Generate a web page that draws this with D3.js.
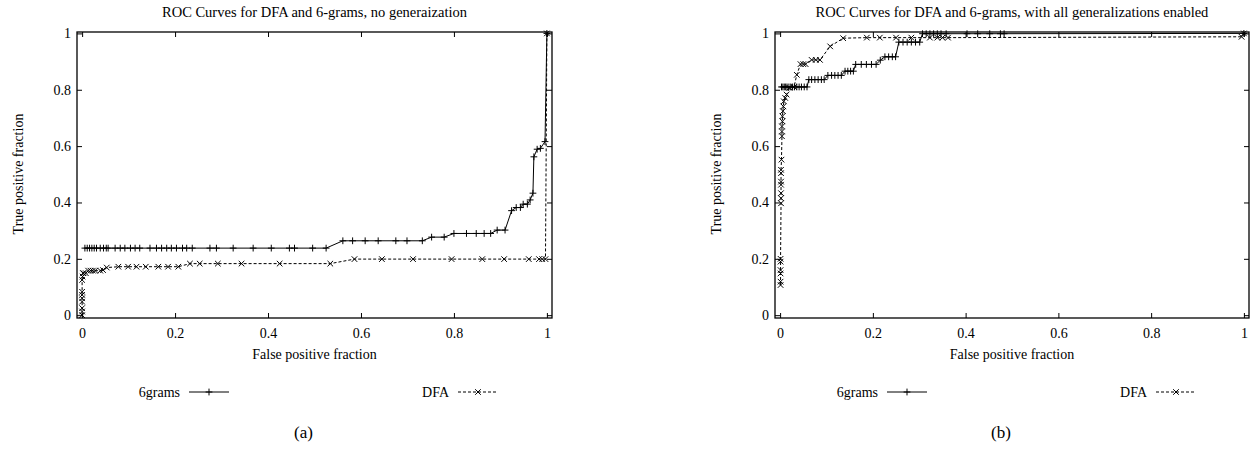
<!DOCTYPE html>
<html>
<head>
<meta charset="utf-8">
<script src="https://cdn.jsdelivr.net/npm/d3@7"></script>
<style>
  body { margin: 0; background: #fff; }
  text { font-family: "Liberation Serif", "Times New Roman", serif; fill: #000; }
</style>
</head>
<body>
<div id="chart"></div>
<script>

// tick values, shared by both panels
var xTickValues = [0, 0.2, 0.4, 0.6, 0.8, 1]
var yTickValues = [0, 0.2, 0.4, 0.6, 0.8, 1]

var seriesNames = ["6grams", "DFA"]

// (a) no generalization - 6grams
var grams6NoGenFpr = [0.006, 0.011, 0.016, 0.021, 0.026, 0.031, 0.039, 0.046, 0.052, 0.056,
  0.071, 0.082, 0.092, 0.104, 0.114, 0.124, 0.146, 0.160, 0.171, 0.182, 0.192, 0.203, 0.216,
  0.225, 0.237, 0.275, 0.289, 0.325, 0.368, 0.407, 0.446, 0.457, 0.496, 0.525,
  0.561, 0.582, 0.609, 0.637, 0.675, 0.699, 0.732, 0.752, 0.779,
  0.800, 0.827, 0.848, 0.865, 0.879, 0.893, 0.910,
  0.924, 0.934, 0.943, 0.949, 0.958, 0.964, 0.970, 0.972, 0.979, 0.986, 0.996, 1.0]
var grams6NoGenTpr = [0.238, 0.238, 0.238, 0.238, 0.238, 0.238, 0.238, 0.238, 0.238, 0.238,
  0.238, 0.238, 0.238, 0.238, 0.238, 0.238, 0.238, 0.238, 0.238, 0.238, 0.238, 0.238, 0.238,
  0.238, 0.238, 0.238, 0.238, 0.238, 0.238, 0.238, 0.238, 0.238, 0.238, 0.238,
  0.264, 0.264, 0.264, 0.264, 0.264, 0.264, 0.264, 0.277, 0.277,
  0.290, 0.290, 0.290, 0.290, 0.290, 0.302, 0.302,
  0.371, 0.382, 0.382, 0.394, 0.394, 0.409, 0.433, 0.562, 0.589, 0.592, 0.616, 1.0]

// (a) no generalization - DFA
var dfaNoGenFpr = [0, 0, 0, 0, 0, 0, 0, 0, 0.001, 0.002, 0.003, 0.008,
  0.013, 0.018, 0.023, 0.028, 0.039, 0.045, 0.053,
  0.078, 0.099, 0.117, 0.137, 0.164, 0.185, 0.207,
  0.232, 0.253, 0.292, 0.343, 0.425, 0.534,
  0.586, 0.645, 0.712, 0.795, 0.861, 0.908, 0.961, 0.983, 0.990, 0.997, 1.0]
var dfaNoGenTpr = [0, 0.013, 0.025, 0.048, 0.060, 0.072, 0.083, 0.125, 0.137, 0.149, 0.149, 0.149,
  0.158, 0.158, 0.158, 0.158, 0.158, 0.160, 0.169,
  0.172, 0.172, 0.172, 0.172, 0.172, 0.172, 0.172,
  0.183, 0.183, 0.183, 0.183, 0.183, 0.183,
  0.199, 0.199, 0.199, 0.199, 0.199, 0.199, 0.199, 0.199, 0.199, 0.199, 1.0]

// (b) all generalizations - 6grams
var grams6GenFpr = [0.003, 0.006, 0.009, 0.012, 0.015, 0.019, 0.023, 0.027, 0.031, 0.036,
  0.041, 0.046, 0.052, 0.058,
  0.062, 0.068, 0.075, 0.082, 0.089, 0.095,
  0.103, 0.111, 0.118, 0.125, 0.132,
  0.140, 0.146, 0.152, 0.158,
  0.163, 0.175, 0.186, 0.197, 0.207, 0.216,
  0.226, 0.234, 0.242, 0.249,
  0.256, 0.265, 0.274, 0.283, 0.292, 0.301,
  0.307, 0.315, 0.323, 0.331, 0.339, 0.347, 0.358, 0.403, 0.426, 0.452, 0.475, 0.483, 1.0]
var grams6GenTpr = [0.810, 0.810, 0.810, 0.810, 0.810, 0.810, 0.810, 0.810, 0.810, 0.810,
  0.810, 0.810, 0.810, 0.810,
  0.836, 0.836, 0.836, 0.836, 0.836, 0.836,
  0.851, 0.851, 0.851, 0.851, 0.851,
  0.866, 0.866, 0.866, 0.866,
  0.890, 0.890, 0.890, 0.890, 0.890, 0.905,
  0.917, 0.917, 0.917, 0.917,
  0.969, 0.969, 0.969, 0.969, 0.969, 0.969,
  0.999, 0.999, 0.999, 0.999, 0.999, 0.999, 0.999, 0.999, 0.999, 0.999, 0.999, 0.999, 1.0]

// (b) all generalizations - DFA
var dfaGenFpr = [0.001, 0.001, 0.001, 0.001, 0.001, 0.001,
  0.002, 0.002, 0.002, 0.002, 0.002, 0.002, 0.002, 0.003,
  0.004, 0.004, 0.004, 0.005, 0.005, 0.006, 0.007, 0.008, 0.011, 0.014,
  0.020, 0.030, 0.036, 0.044, 0.050, 0.055, 0.068, 0.077, 0.086,
  0.108, 0.136, 0.187, 0.215, 0.250, 0.283, 0.323, 0.339, 0.350, 0.362, 0.995, 1.0]
var dfaGenTpr = [0.107, 0.119, 0.148, 0.160, 0.190, 0.200,
  0.397, 0.415, 0.433, 0.463, 0.474, 0.504, 0.516, 0.552,
  0.635, 0.652, 0.670, 0.688, 0.706, 0.724, 0.741, 0.759, 0.771, 0.783,
  0.807, 0.810, 0.853, 0.891, 0.891, 0.891, 0.906, 0.906, 0.906,
  0.954, 0.983, 0.985, 0.985, 0.985, 0.985, 0.985, 0.985, 0.985, 0.985, 0.988, 1.0]

var width = 1251,
    height = 456

var svg = d3.select("#chart").append("svg")
  .attr("width", width)
  .attr("height", height)

var panels = [
  { left: 77, right: 552, top: 32, bottom: 318, caption: "(a)",
    title: "ROC Curves for DFA and 6-grams, no generaization",
    series: [[grams6NoGenFpr, grams6NoGenTpr], [dfaNoGenFpr, dfaNoGenTpr]] },
  { left: 775, right: 1249, top: 32, bottom: 318, caption: "(b)",
    title: "ROC Curves for DFA and 6-grams, with all generalizations enabled",
    series: [[grams6GenFpr, grams6GenTpr], [dfaGenFpr, dfaGenTpr]] }
]

// small gnuplot-like point marks (+ and x)
var plusSymbol = d3.symbol().type(d3.symbolPlus).size(17)
var timesSymbol = d3.symbol().type(d3.symbolTimes).size(22)

panels.forEach(function(p){ drawPanel(p) })

function drawPanel(p){

  var x = d3.scaleLinear().domain([-0.011, 1.011]).range([p.left, p.right])
  var y = d3.scaleLinear().domain([-0.01, 1.005]).range([p.bottom, p.top])
  var cx = (p.left + p.right) / 2

  var g = svg.append("g")

  // axes: gnuplot style, ticks inward on all four sides
  var axB = g.append("g")
    .attr("transform", "translate(0," + p.bottom + ")")
    .call(d3.axisBottom(x).tickValues(xTickValues).tickFormat(d3.format("~g"))
      .tickSizeInner(-5).tickSizeOuter(0).tickPadding(10))
  var axT = g.append("g")
    .attr("transform", "translate(0," + p.top + ")")
    .call(d3.axisTop(x).tickValues(xTickValues).tickFormat("")
      .tickSizeInner(-5).tickSizeOuter(0))
  var axL = g.append("g")
    .attr("transform", "translate(" + p.left + ",0)")
    .call(d3.axisLeft(y).tickValues(yTickValues).tickFormat(d3.format("~g"))
      .tickSizeInner(-5).tickSizeOuter(0).tickPadding(6))
  var axR = g.append("g")
    .attr("transform", "translate(" + p.right + ",0)")
    .call(d3.axisRight(y).tickValues(yTickValues).tickFormat("")
      .tickSizeInner(-5).tickSizeOuter(0))

  ;[axB, axT, axL, axR].forEach(function(a){
    a.select(".domain").remove()
    a.selectAll("line").attr("stroke", "#000").attr("stroke-width", 1)
    a.selectAll("text")
      .style("font-family", '"Liberation Serif", serif')
      .style("font-size", "14px")
      .attr("fill", "#000")
  })

  // frame
  g.append("rect")
    .attr("x", p.left)
    .attr("y", p.top)
    .attr("width", p.right - p.left)
    .attr("height", p.bottom - p.top)
    .attr("fill", "none")
    .attr("stroke", "#000")
    .attr("stroke-width", 1.3)

  // titles and labels
  g.append("text")
    .attr("x", cx).attr("y", 17)
    .attr("text-anchor", "middle")
    .style("font-size", "14.5px")
    .text(p.title)

  g.append("text")
    .attr("x", cx).attr("y", 359)
    .attr("text-anchor", "middle")
    .style("font-size", "14px")
    .text("False positive fraction")

  g.append("text")
    .attr("transform", "translate(" + (p.left - 54) + "," + ((p.top + p.bottom) / 2 - 1) + ") rotate(-90)")
    .attr("text-anchor", "middle")
    .style("font-size", "14px")
    .text("True positive fraction")

  g.append("text")
    .attr("x", cx - 11).attr("y", 438)
    .attr("text-anchor", "middle")
    .style("font-size", "17px")
    .text(p.caption)

  var line = d3.line()
    .x(function(d){ return x(d[0]) })
    .y(function(d){ return y(d[1]) })

  p.series.forEach(function(s, i){
    var pts = d3.zip(s[0], s[1])
    var isDfa = i == 1

    g.append("path")
      .datum(pts)
      .attr("d", line)
      .attr("fill", "none")
      .attr("stroke", "#000")
      .attr("stroke-width", 1)
      .attr("stroke-dasharray", isDfa ? "3,2" : null)

    g.selectAll(".pt" + i)
      .data(pts)
      .enter().append("path")
      .attr("class", "pt" + i)
      .attr("transform", function(d){ return "translate(" + x(d[0]) + "," + y(d[1]) + ")" })
      .attr("d", isDfa ? timesSymbol : plusSymbol)
      .attr("fill", "none")
      .attr("stroke", "#000")
      .attr("stroke-width", 1)

    // legend entry
    var lx = p.left + (isDfa ? 372 : 103)
    var ly = 392
    g.append("text")
      .attr("x", lx).attr("y", ly + 5)
      .attr("text-anchor", "end")
      .style("font-size", "14px")
      .text(seriesNames[i])
    g.append("line")
      .attr("x1", lx + 9).attr("x2", lx + 49)
      .attr("y1", ly).attr("y2", ly)
      .attr("stroke", "#000")
      .attr("stroke-width", 1)
      .attr("stroke-dasharray", isDfa ? "3,2" : null)
    g.append("path")
      .attr("transform", "translate(" + (lx + 29) + "," + ly + ")")
      .attr("d", isDfa ? timesSymbol : plusSymbol)
      .attr("fill", "none")
      .attr("stroke", "#000")
      .attr("stroke-width", 1)
  })
}

</script>
</body>
</html>
